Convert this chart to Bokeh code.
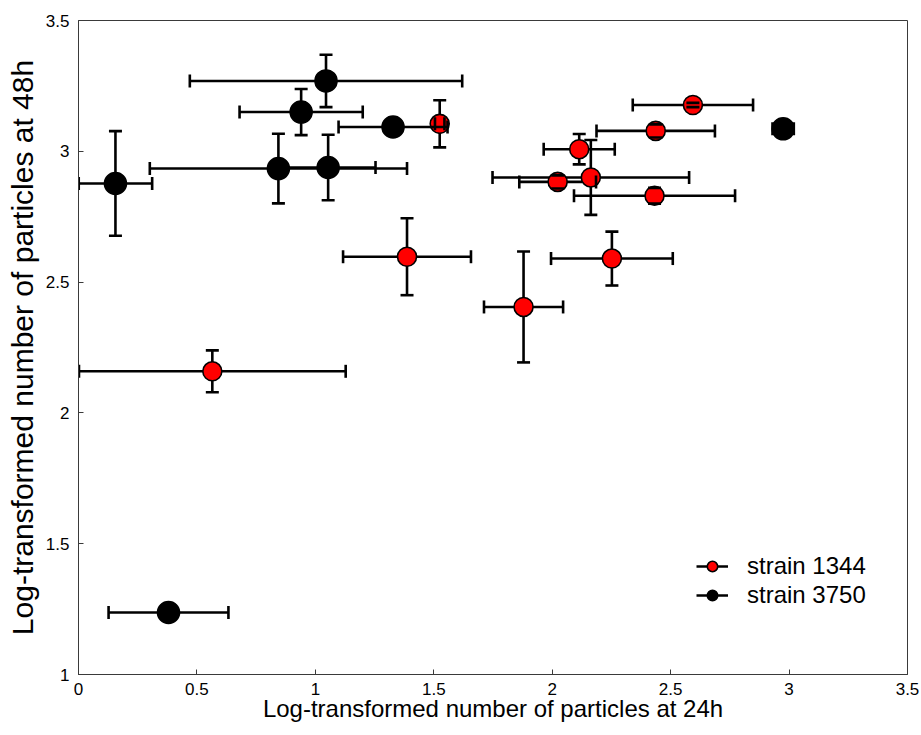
import numpy as np
from bokeh.plotting import figure
from bokeh.models import (Range1d, FixedTicker, NumeralTickFormatter,
                          Legend, LegendItem)
from bokeh.embed import file_html
from bokeh.resources import INLINE

# ---- data ----
red_x = [0.565, 1.387, 1.525, 1.879, 2.023, 2.114, 2.163, 2.252, 2.432, 2.437, 2.594]
red_y = [2.159, 2.597, 3.105, 2.405, 2.883, 3.008, 2.900, 2.590, 2.830, 3.078, 3.177]
red_xerr = [0.563, 0.27, 0.02, 0.167, 0.162, 0.15, 0.415, 0.257, 0.34, 0.25, 0.254]
red_yerr = [0.08, 0.147, 0.09, 0.212, 0.025, 0.058, 0.143, 0.103, 0.03, 0.025, 0.008]

blk_x = [0.156, 0.38, 0.844, 0.940, 1.045, 1.054, 1.328, 2.975]
blk_y = [2.877, 1.237, 2.934, 3.150, 3.269, 2.938, 3.093, 3.086]
blk_xerr = [0.155, 0.253, 0.543, 0.26, 0.575, 0.2, 0.23, 0.045]
blk_yerr = [0.2, 0.02, 0.133, 0.088, 0.1, 0.125, 0.02, 0.02]

series_names = ["strain 1344", "strain 3750"]
x_ticks = [0, 0.5, 1, 1.5, 2, 2.5, 3, 3.5]
x_tick_labels = ["0", "0.5", "1", "1.5", "2", "2.5", "3", "3.5"]
y_ticks = [1, 1.5, 2, 2.5, 3, 3.5]
y_tick_labels = ["1", "1.5", "2", "2.5", "3", "3.5"]

FONT = "Liberation Sans"
AXC = "#3a3a3a"

p = figure(width=921, height=735, x_range=Range1d(0, 3.5), y_range=Range1d(1, 3.5),
           output_backend="svg", toolbar_location=None,
           min_border_left=78, min_border_right=14, min_border_top=20, min_border_bottom=61)
p.background_fill_color = "white"
p.border_fill_color = "white"
p.outline_line_color = AXC
p.outline_line_width = 1
p.xgrid.visible = False
p.ygrid.visible = False


def key(t):
    return int(t) if float(t).is_integer() else t


def style_axis(ax, ticks, labels):
    ax.ticker = FixedTicker(ticks=ticks)
    ax.formatter = NumeralTickFormatter(format="0.[0]")
    ax.major_label_overrides = {key(t): l for t, l in zip(ticks, labels)}
    ax.major_tick_in = 5
    ax.major_tick_out = 0
    ax.minor_tick_line_color = None
    ax.axis_line_color = AXC
    ax.major_tick_line_color = AXC
    ax.major_tick_line_width = 1
    ax.major_label_text_font = FONT
    ax.major_label_text_font_size = "17px"
    ax.major_label_text_color = "black"
    ax.axis_label_text_font = FONT
    ax.axis_label_text_font_style = "normal"
    ax.axis_label_text_color = "black"


style_axis(p.xaxis[0], x_ticks, x_tick_labels)
style_axis(p.yaxis[0], y_ticks, y_tick_labels)
p.xaxis[0].major_label_standoff = 8
p.yaxis[0].major_label_standoff = 9
p.xaxis[0].axis_label = "Log-transformed number of particles at 24h"
p.yaxis[0].axis_label = "Log-transformed number of particles at 48h"
p.xaxis[0].axis_label_text_font_size = "24px"
p.xaxis[0].axis_label_standoff = -3
p.yaxis[0].axis_label_text_font_size = "30px"
p.yaxis[0].axis_label_standoff = 4

LW = 2.6
CAP = 13


def draw_series(xs, ys, xe, ye, fill, msize):
    xs = np.array(xs); ys = np.array(ys); xe = np.array(xe); ye = np.array(ye)
    hseg = p.segment(x0=xs - xe, y0=ys, x1=xs + xe, y1=ys, line_color="black", line_width=LW)
    p.segment(x0=xs, y0=ys - ye, x1=xs, y1=ys + ye, line_color="black", line_width=LW)
    mk = p.scatter(xs, ys, marker="circle", size=msize, fill_color=fill,
                   line_color="black", line_width=1.6)
    p.scatter(np.concatenate([xs - xe, xs + xe]), np.concatenate([ys, ys]), marker="dash",
              angle=np.pi / 2, size=CAP, line_color="black", line_width=LW)
    p.scatter(np.concatenate([xs, xs]), np.concatenate([ys - ye, ys + ye]), marker="dash",
              size=CAP, line_color="black", line_width=LW)
    return hseg, mk


r_h, r_m = draw_series(red_x, red_y, red_xerr, red_yerr, "#ff0000", 19)
b_h, b_m = draw_series(blk_x, blk_y, blk_xerr, blk_yerr, "black", 22)

legend = Legend(items=[LegendItem(label=series_names[0], renderers=[r_h, r_m]),
                       LegendItem(label=series_names[1], renderers=[b_h, b_m])],
                location=(618, 65), padding=4, margin=0, spacing=1,
                glyph_width=32, glyph_height=26, label_height=26, label_standoff=19,
                label_text_font=FONT, label_text_font_size="24px", label_text_color="black",
                border_line_color=None, background_fill_alpha=0)
p.add_layout(legend, "center")

open("out.html", "w").write(file_html(p, INLINE))
